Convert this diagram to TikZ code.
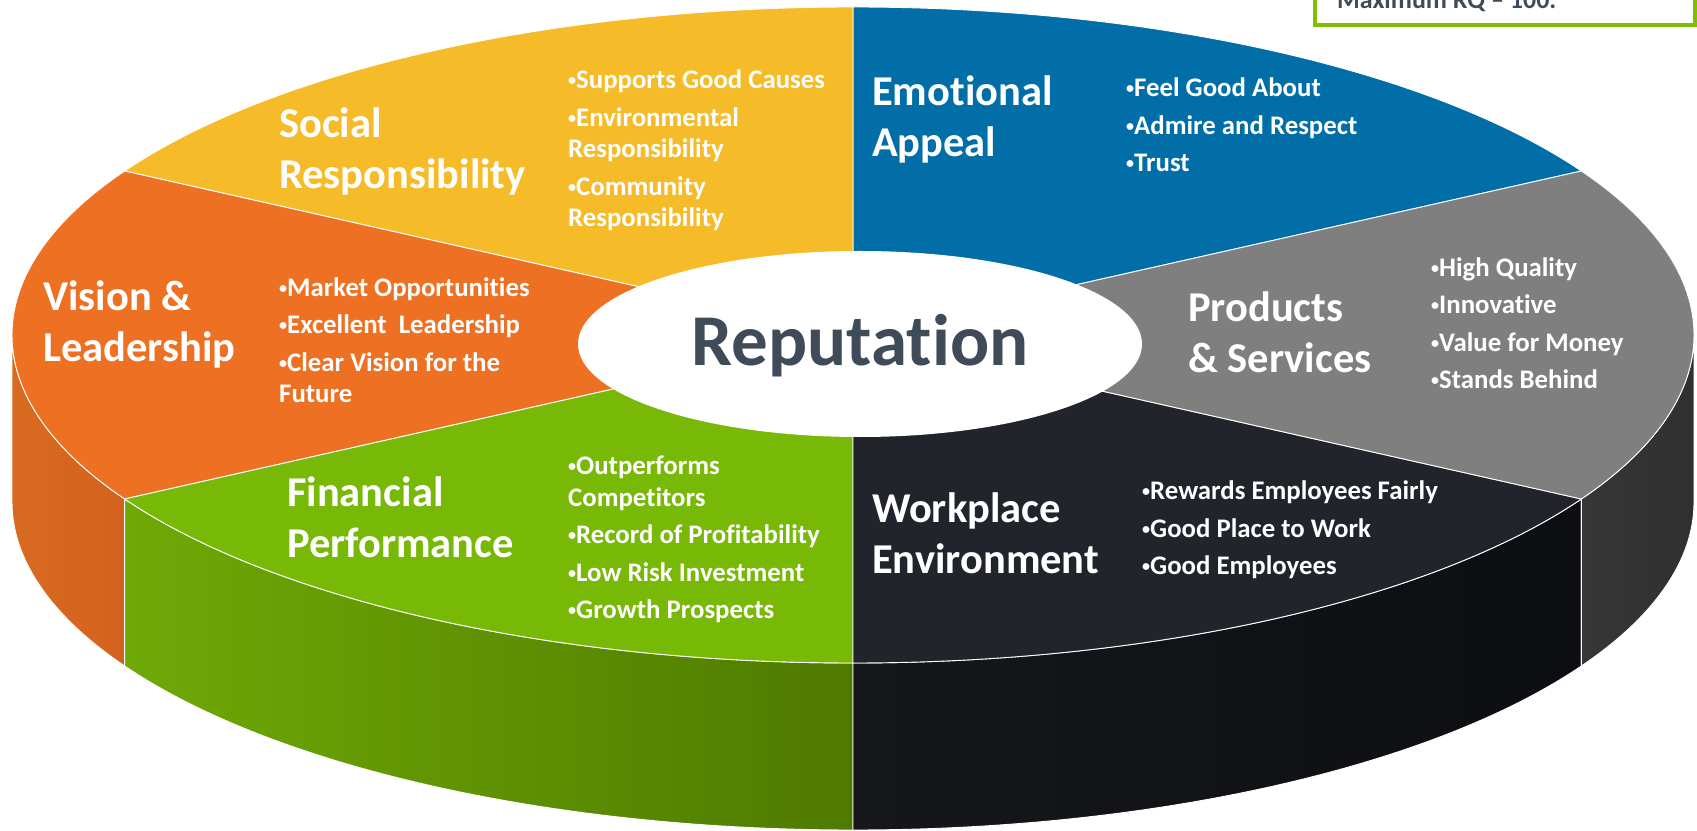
\documentclass[tikz,border=0pt]{standalone}
\usepackage{graphicx}
\usepackage{fontspec}
\setmainfont{Carlito}[Ligatures=NoCommon]
\usetikzlibrary{shapes.geometric}

% slice colours (top faces)
\definecolor{cBlue}{HTML}{016EA8}
\definecolor{cGold}{HTML}{F5BB29}
\definecolor{cOrange}{HTML}{EE7023}
\definecolor{cGreen}{HTML}{78B807}
\definecolor{cBlack}{HTML}{21242B}
\definecolor{cGray}{HTML}{7F7F7F}
% rim colours (side faces)
\definecolor{sOrangeA}{HTML}{D86A20}
\definecolor{sOrangeB}{HTML}{D3621E}
\definecolor{sGreenA}{HTML}{6FA906}
\definecolor{sGreenB}{HTML}{4E7A00}
\definecolor{sBlackA}{HTML}{15171B}
\definecolor{sBlackB}{HTML}{0D0E11}
\definecolor{sGrayA}{HTML}{363636}
\definecolor{sGrayB}{HTML}{303030}
% other
\definecolor{repText}{HTML}{3F4B59}
\definecolor{boxGreen}{HTML}{7FBF00}

% small raised bullet
\newcommand{\bul}{\raisebox{0.12em}{\scalebox{0.6}{•}}}

\begin{document}
\begin{tikzpicture}[x=1pt,y=1pt,
  rim/.style={draw=white, line width=0.9pt, line join=round},
  wedge/.style={draw=white, line width=0.9pt, line join=round},
  ttl/.style={anchor=base west, inner sep=0pt, text=white, align=left,
    font=\bfseries\fontsize{42.5}{51}\selectfont},
  blt/.style={anchor=base west, inner sep=0pt, text=white, align=left,
    font=\bfseries\fontsize{26.8}{31.5}\selectfont}]

\useasboundingbox (0,0) rectangle (1697,830);
\clip (0,0) rectangle (1697,830);

% pie geometry: top face centre, radii, thickness 167
\coordinate (C) at (853,495);
\coordinate (P30)  at (1581.33,659);
\coordinate (P90)  at (853,823);
\coordinate (P150) at (124.67,659);
\coordinate (P180) at (12,495);
\coordinate (P210) at (124.67,331);
\coordinate (P270) at (853,167);
\coordinate (P330) at (1581.33,331);

% side faces of the front half
\path[rim, left color=sOrangeA, right color=sOrangeB]
  (P180) arc[start angle=180, end angle=210, x radius=841pt, y radius=328pt]
  -- ++(0,-167) arc[start angle=210, end angle=180, x radius=841pt, y radius=328pt] -- cycle;
\path[rim, left color=sGreenA, right color=sGreenB]
  (P210) arc[start angle=210, end angle=270, x radius=841pt, y radius=328pt]
  -- ++(0,-167) arc[start angle=270, end angle=210, x radius=841pt, y radius=328pt] -- cycle;
\path[rim, left color=sBlackA, right color=sBlackB]
  (P270) arc[start angle=270, end angle=330, x radius=841pt, y radius=328pt]
  -- ++(0,-167) arc[start angle=330, end angle=270, x radius=841pt, y radius=328pt] -- cycle;
\path[rim, left color=sGrayA, right color=sGrayB]
  (P330) arc[start angle=330, end angle=360, x radius=841pt, y radius=328pt]
  -- ++(0,-167) arc[start angle=360, end angle=330, x radius=841pt, y radius=328pt] -- cycle;

% top face wedges
\path[wedge, fill=cBlue]   (C) -- (P30)  arc[start angle=30,  end angle=90,  x radius=841pt, y radius=328pt] -- cycle;
\path[wedge, fill=cGold]   (C) -- (P90)  arc[start angle=90,  end angle=150, x radius=841pt, y radius=328pt] -- cycle;
\path[wedge, fill=cOrange] (C) -- (P150) arc[start angle=150, end angle=210, x radius=841pt, y radius=328pt] -- cycle;
\path[wedge, fill=cGreen]  (C) -- (P210) arc[start angle=210, end angle=270, x radius=841pt, y radius=328pt] -- cycle;
\path[wedge, fill=cBlack]  (C) -- (P270) arc[start angle=270, end angle=330, x radius=841pt, y radius=328pt] -- cycle;
\path[wedge, fill=cGray]   (C) -- (P330) arc[start angle=330, end angle=390, x radius=841pt, y radius=328pt] -- cycle;

% centre hub
\node (hub) [ellipse, fill=white, inner sep=0pt, minimum width=564pt, minimum height=186pt] at (860,486) {};
\node (rep) [anchor=base, inner sep=0pt, text=repText, font=\bfseries\fontsize{73}{88}\selectfont] at (860,464) {Reputation};

% segment titles (placed by the baseline of their last line)
\node (tSocial)    [ttl] at (279,641)  {Social\\Responsibility};
\node (tEmotional) [ttl] at (872,673)  {Emotional\\Appeal};
\node (tVision)    [ttl] at (43,468)   {Vision \&\\Leadership};
\node (tProducts)  [ttl] at (1188,457) {Products\\\& Services};
\node (tFinancial) [ttl] at (287,272)  {Financial\\Performance};
\node (tWorkplace) [ttl] at (872,256)  {Workplace\\Environment};

% segment bullet lists (placed by the baseline of their last line)
\node (bSocial) [blt] at (568,603)
  {\bul Supports Good Causes\\[6pt]\bul Environmental\\Responsibility\\[6pt]\bul Community\\Responsibility};
\node (bEmotional) [blt] at (1126,658)
  {\bul Feel Good About\\[6pt]\bul Admire and Respect\\[6pt]\bul Trust};
\node (bVision) [blt] at (279,427)
  {\bul Market Opportunities\\[6pt]\bul Excellent~ Leadership\\[6pt]\bul Clear Vision for the\\Future};
\node (bProducts) [blt] at (1431,441)
  {\bul High Quality\\[6pt]\bul Innovative\\[6pt]\bul Value for Money\\[6pt]\bul Stands Behind};
\node (bFinancial) [blt] at (568,211)
  {\bul Outperforms\\Competitors\\[6pt]\bul Record of Profitability\\[6pt]\bul Low Risk Investment\\[6pt]\bul Growth Prospects};
\node (bWorkplace) [blt] at (1142,255)
  {\bul Rewards Employees Fairly\\[6pt]\bul Good Place to Work\\[6pt]\bul Good Employees};

% score note box in the top corner
\draw[boxGreen, line width=4pt, fill=white] (1315,805.3) rectangle (1695,870);
\node (note) [anchor=base west, inner sep=0pt, text=repText, font=\bfseries\fontsize{26}{31}\selectfont] at (1337,821) {Maximum RQ – 100.};
\end{tikzpicture}
\end{document}
